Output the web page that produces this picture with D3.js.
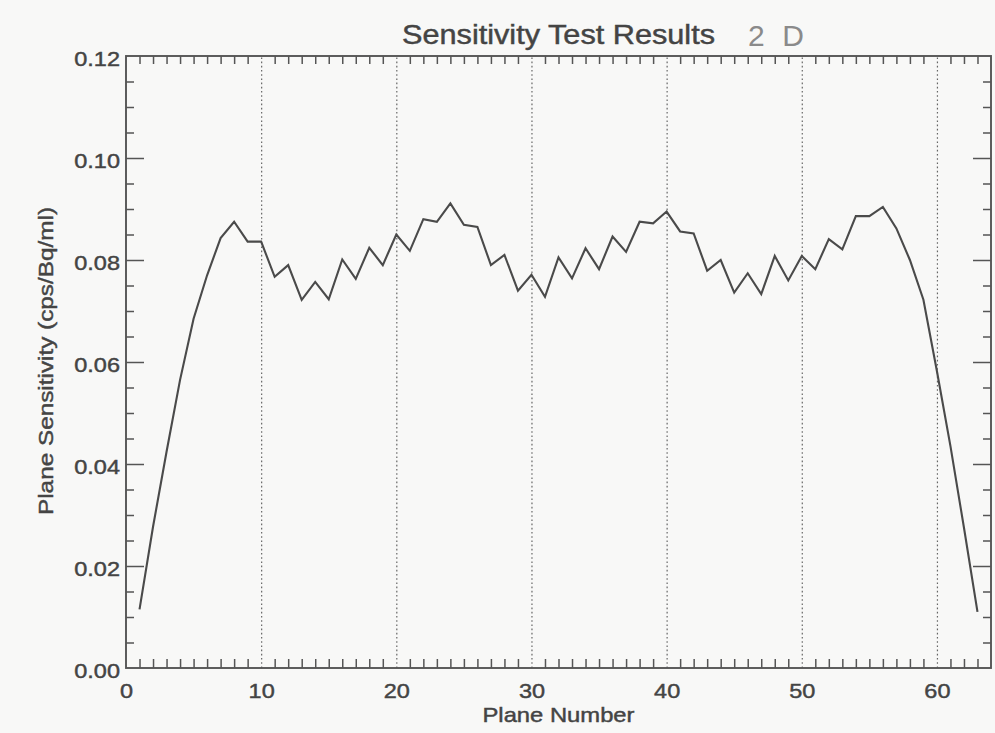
<!DOCTYPE html>
<html>
<head>
<meta charset="utf-8">
<script src="https://cdn.jsdelivr.net/npm/d3@7"></script>
<style>
  html, body { margin: 0; padding: 0; background: #f8f8f7; }
  svg { display: block; }
  text { font-family: "Liberation Sans", Arial, Helvetica, sans-serif; fill: #444; }
  .lbl { stroke: #444; stroke-width: 0.45px; }
</style>
</head>
<body>
<svg id="chart" width="995" height="733"></svg>
<script>
// Plane sensitivity per plane number (2D acquisition)
const planes = d3.range(1, 64);
const sensitivity = [
  0.0115, 0.0277, 0.0424, 0.0565, 0.0685, 0.0770, 0.0843, 0.0875, 0.0836, 0.0836,
  0.0767, 0.0790, 0.0722, 0.0757, 0.0723, 0.0801, 0.0763, 0.0824, 0.0790, 0.0850,
  0.0818, 0.0880, 0.0875, 0.0911, 0.0869, 0.0865, 0.0790, 0.0810, 0.0740, 0.0771,
  0.0728, 0.0805, 0.0764, 0.0823, 0.0782, 0.0846, 0.0816, 0.0875, 0.0872, 0.0895,
  0.0856, 0.0852, 0.0779, 0.0800, 0.0736, 0.0774, 0.0733, 0.0808, 0.0760, 0.0808,
  0.0782, 0.0841, 0.0821, 0.0886, 0.0886, 0.0904, 0.0862, 0.0800, 0.0722, 0.0582,
  0.0435, 0.0275, 0.0110
];
const xMajorTicks = [0, 10, 20, 30, 40, 50, 60];
const xMinorTicks = d3.range(1, 64);
const yMajorTicks = [0.00, 0.02, 0.04, 0.06, 0.08, 0.10, 0.12];
const yMinorTicks = d3.range(0, 25).map(i => +(i * 0.005).toFixed(3));

const titleText = "Sensitivity Test Results";
const noteText = "2 D";
const xTitle = "Plane Number";
const yTitle = "Plane Sensitivity (cps/Bq/ml)";

const margin = { left: 126, top: 56, right: 4, bottom: 65 };
const W = 995, H = 733;
const iw = W - margin.left - margin.right;
const ih = H - margin.top - margin.bottom;

const svg = d3.select("#chart");
const g = svg.append("g").attr("transform", `translate(${margin.left},${margin.top})`);

const x = d3.scaleLinear().domain([0, 64]).range([0, iw]);
const y = d3.scaleLinear().domain([0, 0.12]).range([ih, 0]);

const axisColor = "#555";
const stretch = 1.12; // wide glyphs of the plotting font

// dotted vertical grid at the major plane numbers
g.append("g")
  .attr("transform", `translate(0,${ih})`)
  .call(d3.axisBottom(x).tickValues(xMajorTicks.filter(v => v > 0)).tickSize(-ih).tickFormat(""))
  .call(a => a.select(".domain").remove())
  .call(a => a.selectAll("line").attr("stroke", "#666").attr("stroke-width", 1.2).attr("stroke-dasharray", "1.6,2.6"));

// minor ticks: bottom and top
g.append("g")
  .attr("transform", `translate(0,${ih})`)
  .call(d3.axisBottom(x).tickValues(xMinorTicks.filter(v => v % 10 !== 0)).tickSize(-9).tickFormat(""))
  .call(a => a.select(".domain").remove())
  .call(a => a.selectAll("line").attr("stroke", axisColor).attr("stroke-width", 1.5));
g.append("g")
  .call(d3.axisTop(x).tickValues(xMinorTicks.filter(v => v % 10 !== 0)).tickSize(-8).tickFormat(""))
  .call(a => a.select(".domain").remove())
  .call(a => a.selectAll("line").attr("stroke", axisColor).attr("stroke-width", 1.5));

// x labels
const xl = g.append("g")
  .attr("transform", `translate(0,${ih})`)
  .call(d3.axisBottom(x).tickValues(xMajorTicks).tickSize(0).tickPadding(0).tickFormat(d3.format("d")));
xl.select(".domain").remove();
xl.selectAll("text")
  .attr("class", "lbl")
  .attr("y", 30).attr("dy", null)
  .attr("font-size", 21)
  .attr("font-family", "Liberation Sans, Arial, sans-serif")
  .attr("fill", "#444")
  .attr("transform", `scale(${stretch},1)`);

// y ticks: left and right, minor + major
function yTicks(axisFn, offset) {
  const minorG = g.append("g").attr("transform", `translate(${offset},0)`)
    .call(axisFn(y).tickValues(yMinorTicks.filter(v => Math.round(v * 1000) % 20 !== 0)).tickSize(-8).tickFormat(""));
  minorG.select(".domain").remove();
  minorG.selectAll("line").attr("stroke", axisColor).attr("stroke-width", 1.5);
  const majorG = g.append("g").attr("transform", `translate(${offset},0)`)
    .call(axisFn(y).tickValues(yMajorTicks.slice(1, -1)).tickSize(-18).tickFormat(""));
  majorG.select(".domain").remove();
  majorG.selectAll("line").attr("stroke", axisColor).attr("stroke-width", 1.5);
}
yTicks(d3.axisLeft, 0);
yTicks(d3.axisRight, iw);

// y labels
const yl = g.append("g")
  .call(d3.axisLeft(y).tickValues(yMajorTicks).tickSize(0).tickPadding(0).tickFormat(d3.format(".2f")));
yl.select(".domain").remove();
yl.selectAll("text")
  .attr("class", "lbl")
  .attr("x", -6 / stretch).attr("dy", "0.45em")
  .attr("font-size", 21)
  .attr("font-family", "Liberation Sans, Arial, sans-serif")
  .attr("fill", "#444")
  .attr("transform", `scale(${stretch},1)`);

// frame
g.append("rect")
  .attr("width", iw).attr("height", ih)
  .attr("fill", "none").attr("stroke", axisColor).attr("stroke-width", 1.9);

// sensitivity curve
const line = d3.line()
  .x((d, i) => x(planes[i]))
  .y(d => y(d));
g.append("path")
  .datum(sensitivity)
  .attr("d", line)
  .attr("fill", "none")
  .attr("stroke", "#4a4a4a")
  .attr("stroke-width", 2.1)
  .attr("stroke-linejoin", "miter");

// titles
svg.append("text")
  .attr("class", "lbl")
  .attr("x", margin.left + iw / 2).attr("y", 44)
  .attr("text-anchor", "middle")
  .attr("font-size", 27)
  .attr("textLength", 313).attr("lengthAdjust", "spacingAndGlyphs")
  .text(titleText);

svg.append("text")
  .attr("x", 748).attr("y", 46)
  .attr("font-size", 30)
  .attr("font-family", "DejaVu Serif, serif")
  .attr("font-weight", 200)
  .style("fill", "#8a8a8a")
  .attr("textLength", 56).attr("lengthAdjust", "spacing")
  .text(noteText);

svg.append("text")
  .attr("class", "lbl")
  .attr("x", margin.left + iw / 2).attr("y", 722)
  .attr("text-anchor", "middle")
  .attr("font-size", 21)
  .attr("textLength", 152).attr("lengthAdjust", "spacingAndGlyphs")
  .text(xTitle);

svg.append("text")
  .attr("class", "lbl")
  .attr("transform", "translate(53,361) rotate(-90)")
  .attr("text-anchor", "middle")
  .attr("font-size", 21)
  .attr("textLength", 308).attr("lengthAdjust", "spacingAndGlyphs")
  .text(yTitle);
</script>
</body>
</html>
